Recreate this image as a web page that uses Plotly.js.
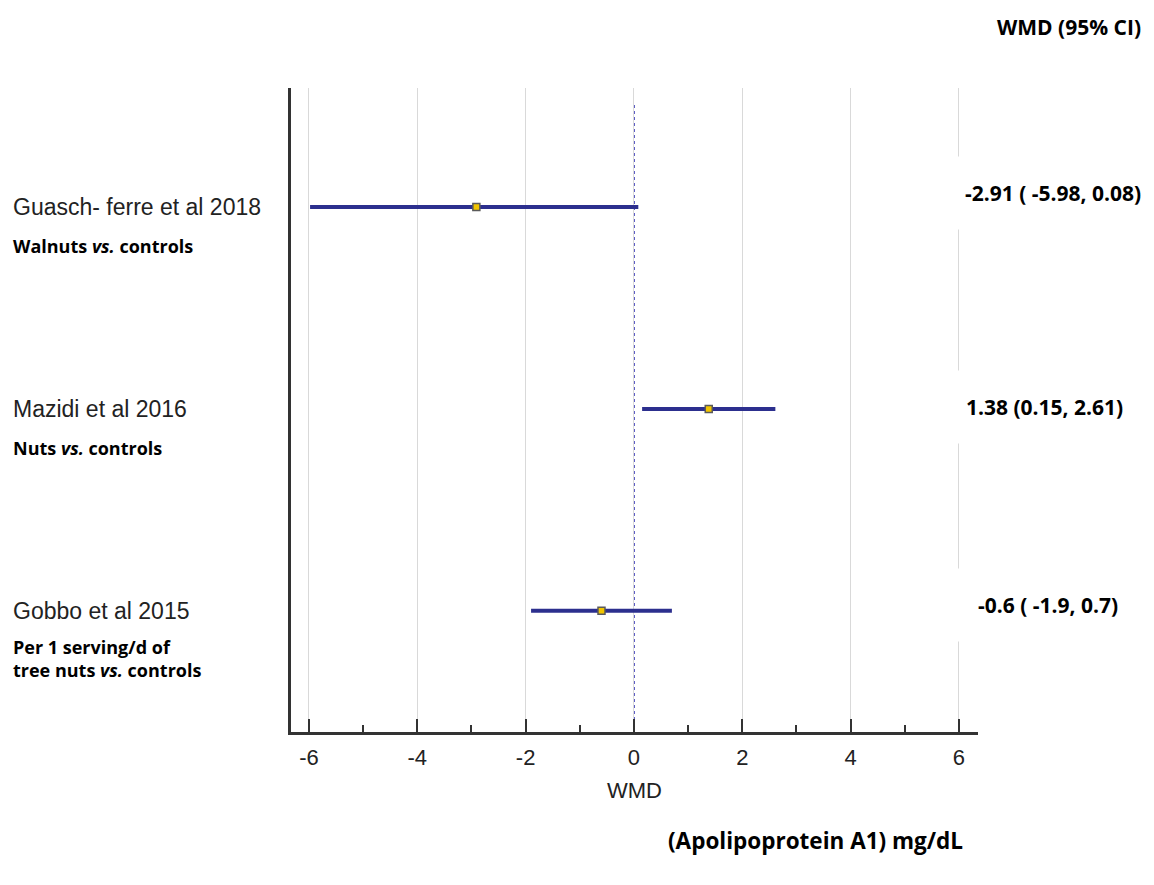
<!DOCTYPE html>
<html>
<head>
<meta charset="utf-8">
<script src="https://cdn.plot.ly/plotly-3.0.1.min.js"></script>
<style>
  html, body { margin: 0; padding: 0; background: #fff; }
  #chart { width: 1154px; height: 885px; }
</style>
</head>
<body>
<div id="chart"></div>
<script>
// Studies on apolipoprotein A1 (weighted mean difference, mg/dL)
const studies = ["Guasch- ferre et al 2018", "Mazidi et al 2016", "Gobbo et al 2015"];
const comparisons = [
  "Walnuts <i>vs.</i> controls",
  "Nuts <i>vs.</i> controls",
  "Per 1 serving/d of<br>tree nuts <i>vs.</i> controls"
];
const wmd = [-2.91, 1.38, -0.6];
const ciLow = [-5.98, 0.15, -1.9];
const ciHigh = [0.08, 2.61, 0.7];
const rowPos = [3, 2, 1];
const xTicks = [-6, -4, -2, 0, 2, 4, 6];
const xTickText = ["-6", "-4", "-2", "0", "2", "4", "6"];

const fmt = v => (v < 0 ? " " : "") + String(v);
const ciLabels = wmd.map((v, i) => `${v} (${fmt(ciLow[i])}, ${ciHigh[i]})`);

const trace = {
  type: "scatter",
  mode: "markers",
  x: wmd,
  y: rowPos,
  marker: { symbol: "square", size: 7, color: "#f2c500", line: { color: "#5a5a5a", width: 1.5 } },
  error_x: {
    type: "data",
    symmetric: false,
    array: wmd.map((v, i) => ciHigh[i] - v),
    arrayminus: wmd.map((v, i) => v - ciLow[i]),
    color: "#2c2f8e",
    thickness: 4,
    width: 0
  },
  hoverinfo: "skip",
  showlegend: false
};

const labelFont = "Liberation Sans, Arial, sans-serif";
const boldFont = "Open Sans, Noto Sans, sans-serif";
const narrowFont = "Liberation Sans Narrow, Arial Narrow, Liberation Sans, sans-serif";

const annotations = [];
const ciShift = [14, 2, 6];
const ciX = [1.109, 1.0975, 1.102];
rowPos.forEach((y, i) => {
  annotations.push({
    xref: "paper", yref: "y", x: -0.408, y: y, xanchor: "left", yanchor: "middle",
    text: studies[i], showarrow: false,
    font: { family: labelFont, size: 23, color: "#222" }
  });
  annotations.push({
    xref: "paper", yref: "y", x: -0.408, y: y, xanchor: "left", yanchor: "top",
    yshift: i === 2 ? -22 : -25,
    text: "<b>" + comparisons[i].replace("<br>", "</b><br><b>") + "</b>", showarrow: false, align: "left",
    font: { family: boldFont, size: 18, color: "#000" }
  });
  annotations.push({
    xref: "paper", yref: "y", x: ciX[i], y: y, xanchor: "center", yanchor: "middle",
    yshift: ciShift[i],
    text: "<b>" + ciLabels[i] + "</b>", showarrow: false,
    bgcolor: "#fff", borderpad: 22,
    font: { family: boldFont, size: 21, color: "#000" }
  });
});
annotations.push({
  xref: "paper", yref: "paper", x: 1.240, y: 1.0, yshift: 61, xanchor: "right", yanchor: "middle",
  text: "<b>WMD (95% CI)</b>", showarrow: false,
  font: { family: boldFont, size: 21, color: "#000" }
});
annotations.push({
  xref: "paper", yref: "paper", x: 0.763, y: 0, yshift: -108, xanchor: "center", yanchor: "middle",
  text: "<b>(Apolipoprotein A1) mg/dL</b>", showarrow: false,
  font: { family: boldFont, size: 22.5, color: "#000" }
});

const layout = {
  width: 1154,
  height: 885,
  margin: { l: 291, r: 176, t: 88, b: 153 },
  paper_bgcolor: "#fff",
  plot_bgcolor: "#fff",
  xaxis: {
    range: [-6.332, 6.351],
    tickvals: xTicks,
    ticktext: xTickText,
    ticks: "inside",
    ticklen: 13,
    tickwidth: 2,
    tickcolor: "#333",
    ticklabelstandoff: 4,
    minor: { dtick: 1, ticks: "inside", ticklen: 7, tickwidth: 2, tickcolor: "#333", showgrid: false },
    showgrid: true,
    gridcolor: "#d9d9d9",
    gridwidth: 1,
    zeroline: false,
    showline: true,
    linecolor: "#333",
    linewidth: 3,
    tickfont: { family: narrowFont, size: 22, color: "#222" },
    title: { text: "WMD", standoff: 14, font: { family: narrowFont, size: 22, color: "#222" } },
    fixedrange: true
  },
  yaxis: {
    range: [0.40, 3.59],
    showticklabels: false,
    ticks: "",
    showgrid: false,
    zeroline: false,
    showline: true,
    linecolor: "#333",
    linewidth: 3,
    fixedrange: true
  },
  shapes: [{
    type: "line", xref: "x", yref: "paper", x0: 0, x1: 0, y0: 0, y1: 0.974,
    line: { color: "#2626b0", width: 1.5, dash: "dot" }, layer: "below"
  }],
  annotations: annotations
};

Plotly.newPlot("chart", [trace], layout, { displayModeBar: false, staticPlot: true });
</script>
</body>
</html>
